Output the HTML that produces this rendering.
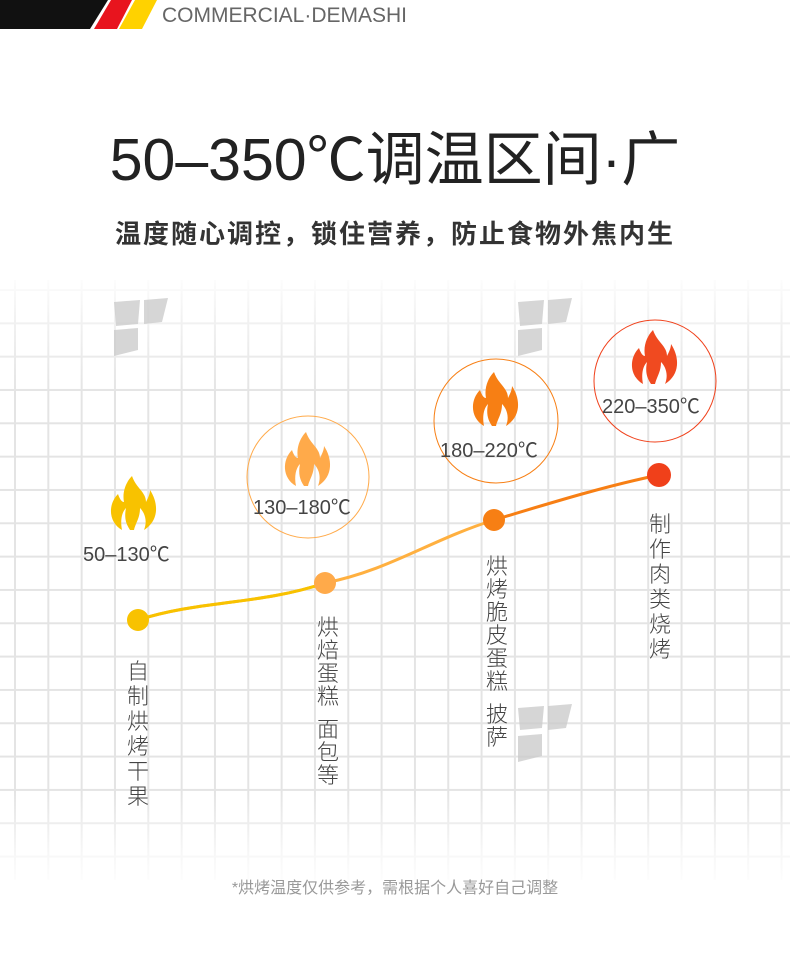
<!DOCTYPE html>
<html><head><meta charset="utf-8"><style>
body{margin:0;width:790px;height:961px;overflow:hidden;background:#fff;position:relative;font-family:"Liberation Sans","Noto Sans CJK SC",sans-serif;}
.grid{position:absolute;left:0;top:280px;width:790px;height:600px;
background-image:linear-gradient(to right,#e4e4e4 2px,transparent 2px),linear-gradient(to bottom,#e4e4e4 2px,transparent 2px);
background-size:33.33px 33.33px;background-position:14px 9px;}
.fade{position:absolute;left:0;top:270px;width:790px;height:620px;background:linear-gradient(to bottom,#fff 0%,rgba(255,255,255,0.5) 8%,rgba(255,255,255,0) 20%,rgba(255,255,255,0) 84%,rgba(255,255,255,0.7) 94%,#fff 100%);}
.t{position:absolute;white-space:nowrap;}
.v{position:absolute;width:30px;font-size:22px;color:#444;text-align:center;font-family:"Noto Sans CJK SC",sans-serif;font-weight:300;}
.gap{height:10px;}
</style></head><body>
<div class="grid"></div><div class="fade"></div>
<svg style="position:absolute;left:0;top:0" width="790" height="961">
<polygon points="0,0 108,0 90,29 0,29" fill="#111"/>
<polygon points="111,0 132,0 117,29 94,29" fill="#e8141e"/>
<polygon points="135,0 157,0 142,29 119,29" fill="#ffd200"/>
<g fill="#ccc" opacity="0.8">
<polygon points="114,302 140,300 138,324 116,326"/><polygon points="144,300 168,298 162,322 144,324"/><polygon points="114,330 138,328 138,350 114,356"/>
<polygon points="518,302 544,300 542,324 520,326"/><polygon points="548,300 572,298 566,322 548,324"/><polygon points="518,330 542,328 542,350 518,356"/>
<polygon points="518,708 544,706 542,728 520,730"/><polygon points="548,706 572,704 566,728 548,730"/><polygon points="518,736 542,734 542,756 518,762"/>
</g>
<path d="M138,620 C200,600 260,605 325,583 C390,570 430,540 494,520" fill="none" stroke="#ffb040" stroke-width="3"/>
<path d="M138,620 C200,600 260,605 325,583" fill="none" stroke="#f8c200" stroke-width="3"/>
<path d="M494,520 C560,500 610,485 659,475" fill="none" stroke="#f77f14" stroke-width="3"/>
<circle cx="138" cy="620" r="11" fill="#f8c200"/>
<circle cx="325" cy="583" r="11" fill="#ffaa4a"/>
<circle cx="494" cy="520" r="11" fill="#f77f14"/>
<circle cx="659" cy="475" r="12" fill="#f0401a"/>
<circle cx="308" cy="477" r="61" fill="none" stroke="#ffaa4a" stroke-width="1"/>
<circle cx="496" cy="421" r="62" fill="none" stroke="#f77f14" stroke-width="1"/>
<circle cx="655" cy="381" r="61" fill="none" stroke="#f0401a" stroke-width="1"/>
<defs><path id="fl" d="M22,0 C26,12 36,16 36,26 C38,22 40,18 40,14 C48,26 50,44 34,54 C38,44 34,36 30,32 C30,42 26,46 24,54 L20,54 C16,48 14,42 16,32 C12,36 10,44 12,54 C-2,46 -2,28 8,18 C10,24 12,26 14,26 C12,16 16,6 22,0Z"/></defs>
<use href="#fl" transform="translate(110,476)" fill="#f8c200"/>
<use href="#fl" transform="translate(284,432)" fill="#ffaa4a"/>
<use href="#fl" transform="translate(472,372)" fill="#f77f14"/>
<use href="#fl" transform="translate(631,330)" fill="#f04a20"/>
</svg>
<div class="t" style="left:162px;top:4px;font-size:21px;color:#666;">COMMERCIAL·DEMASHI</div>
<div class="t" style="left:0;width:790px;text-align:center;top:125px;font-size:59px;color:#222;line-height:70px;">50–350℃调温区间·广</div>
<div class="t" style="left:0;width:790px;text-align:center;top:217px;font-size:26px;font-weight:bold;color:#333;letter-spacing:2px;line-height:34px;">温度随心调控，锁住营养，防止食物外焦内生</div>
<div class="t" style="left:83px;top:538px;font-size:20px;color:#444;">50–130℃</div>
<div class="t" style="left:253px;top:491px;font-size:20px;color:#444;">130–180℃</div>
<div class="t" style="left:440px;top:434px;font-size:20px;color:#444;">180–220℃</div>
<div class="t" style="left:602px;top:390px;font-size:20px;color:#444;">220–350℃</div>
<div class="v" style="left:123px;top:658px;line-height:25px;">自制烘烤干果</div>
<div class="v" style="left:313px;top:615px;line-height:23px;">烘焙蛋糕<div class="gap"></div>面包等</div>
<div class="v" style="left:482px;top:554px;line-height:23px;">烘烤脆皮蛋糕<div class="gap"></div>披萨</div>
<div class="v" style="left:645px;top:511px;line-height:25px;">制作肉类烧烤</div>
<div class="t" style="left:0;width:790px;text-align:center;top:874px;font-size:16px;color:#999;">*烘烤温度仅供参考，需根据个人喜好自己调整</div>
</body></html>
